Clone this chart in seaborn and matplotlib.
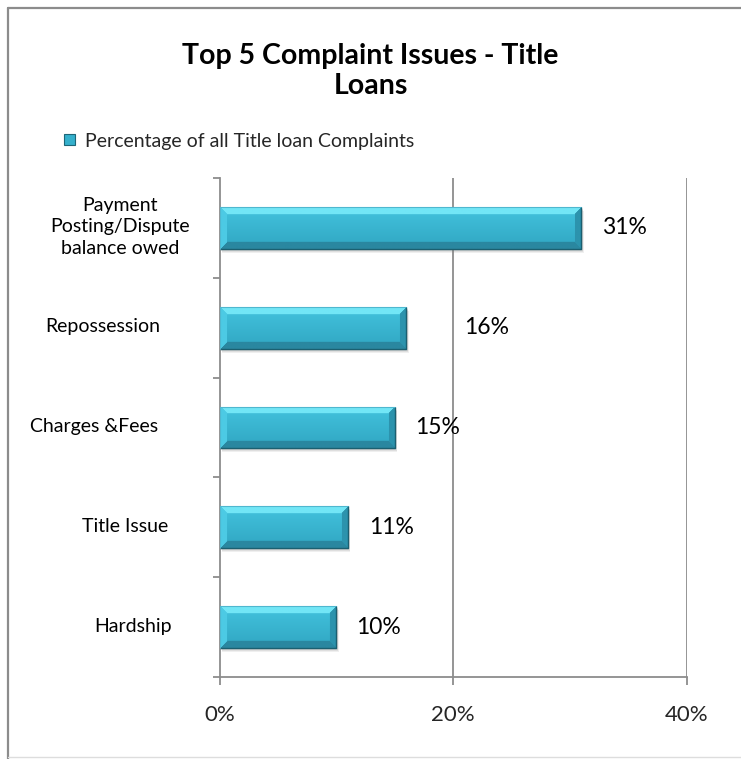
import numpy as np
import pandas as pd
import matplotlib
matplotlib.use("Agg")
import matplotlib.pyplot as plt
import seaborn as sns
from matplotlib.patches import Rectangle, Patch
from matplotlib.lines import Line2D

# ---- data ----
categories = ["Payment\nPosting/Dispute\nbalance owed", "Repossession",
              "Charges &Fees", "Title Issue", "Hardship"]
values = [31, 16, 15, 11, 10]
value_labels = ["31%", "16%", "15%", "11%", "10%"]
x_ticks = [0, 20, 40]
x_tick_labels = ["0%", "20%", "40%"]
title = "Top 5 Complaint Issues - Title\nLoans"
series_name = "Percentage of all Title loan Complaints"

# ---- style ----
sns.set_theme(style="white")
plt.rcParams['font.family'] = ['Lato', 'DejaVu Sans']

W, H = 741, 759
fig = plt.figure(figsize=(W / 100, H / 100), dpi=100)
ax_l, ax_r, ax_t, ax_b = 219.7, 686.5, 178, 677
ax = fig.add_axes([ax_l / W, 1 - ax_b / H, (ax_r - ax_l) / W, (ax_b - ax_t) / H])

df = pd.DataFrame({"category": categories, "value": values})
sns.barplot(data=df, x="value", y="category", orient="h", width=0.42,
            color="#35b0cc", edgecolor="none", linewidth=0, ax=ax, zorder=3)

ax.set_xlim(0, 40)
ax.set_ylim(4.5, -0.5)
px_per_unit_x = (ax_r - ax_l) / 40.0
px_per_unit_y = (ax_b - ax_t) / 5.0

def hex2rgb(h):
    h = h.lstrip("#")
    return np.array([int(h[i:i + 2], 16) / 255 for i in (0, 2, 4)])

top_c = hex2rgb("#72e6f6")
bot_c = hex2rgb("#2a87a0")
left_c = hex2rgb("#4ccae4")
right_c = hex2rgb("#2c93ad")
body_top = hex2rgb("#43c3de")
body_bot = hex2rgb("#30a6c2")

for p in list(ax.patches):
    x0, y0 = p.get_x(), p.get_y()
    w, h = p.get_width(), p.get_height()
    pxw = w * px_per_unit_x
    pxh = h * px_per_unit_y
    # soft shadow
    for k, a in ((4, 0.12), (3, 0.15), (2, 0.18)):
        sh = Rectangle((x0 + k * 0.6 / px_per_unit_x, y0 + k / px_per_unit_y), w, h,
                       facecolor="#808080", edgecolor="none", alpha=a, zorder=2)
        ax.add_patch(sh)
    ny, nx = int(max(pxh, 2)), int(max(pxw, 2))
    r = (np.arange(ny) + 0.5)[:, None] / ny
    c = (np.arange(nx) + 0.5)[None, :] / nx
    bv = 7.0 / pxh
    bh = 7.0 / pxw
    dt = r / bv + 0 * c
    db = (1 - r) / bv + 0 * c
    dl = c / bh + 0 * r
    dr = (1 - c) / bh + 0 * r
    m = np.minimum(np.minimum(dt, db), np.minimum(dl, dr))
    img = body_top[None, None, :] * (1 - r[..., None]) + body_bot[None, None, :] * r[..., None]
    img = np.broadcast_to(img, (ny, nx, 3)).copy()
    edge = m < 1
    for d, col in ((dt, top_c), (db, bot_c), (dl, left_c), (dr, right_c)):
        sel = edge & (d == m)
        img[sel] = col
    im = ax.imshow(img, extent=(x0, x0 + w, y0 + h, y0), aspect="auto",
                   interpolation="bilinear", zorder=3.5)
    im.set_clip_path(p)
    # darker bottom and right edges, lighter top
    ax.plot([x0, x0 + w, x0 + w], [y0 + h, y0 + h, y0], color="#1b5f70",
            linewidth=1.0, zorder=4, solid_capstyle="butt")
    ax.plot([x0, x0, x0 + w], [y0 + h, y0, y0], color="#4fb7cf",
            linewidth=0.8, zorder=4, solid_capstyle="butt")

ax.set_aspect("auto")
ax.set_xlim(0, 40)
ax.set_ylim(4.5, -0.5)

# value labels
label_offsets_px = [21, 58, 20, 21, 20]
for i, (v, lab) in enumerate(zip(values, value_labels)):
    ax.annotate(lab, (v, i), xytext=(label_offsets_px[i] * 0.72, 0),
                textcoords="offset points", va="center", ha="left",
                fontsize=16.5, color="#000000", zorder=5)

# axes styling
grid_col = "#8c8c8c"
for s in ("top", "right"):
    ax.spines[s].set_visible(False)
for s in ("left", "bottom"):
    ax.spines[s].set_color(grid_col)
    ax.spines[s].set_linewidth(1.3)
ax.set_xticks(x_ticks)
ax.set_xticklabels(x_tick_labels, fontsize=16)
ax.tick_params(axis="x", direction="out", length=6, width=1.3, color=grid_col,
               pad=14, bottom=True)
ax.set_yticks(range(len(categories)))
ax.set_yticklabels([])
ax.tick_params(axis="y", which="major", length=0)
ax.set_yticks(np.arange(-0.5, len(categories), 1.0), minor=True)
ax.tick_params(axis="y", which="minor", direction="out", length=5, width=1.3,
               color=grid_col, left=True)
for gx in x_ticks[1:]:
    ax.axvline(gx, color=grid_col, linewidth=1.3, zorder=1)
ax.set_xlabel("")
ax.set_ylabel("")

# category labels (center aligned, Excel-like placement)
label_centers_px = [120, 103, 94, 125, 133]
for i, (cat, cx) in enumerate(zip(categories, label_centers_px)):
    fig.text(cx / W, 1 - (ax_t + (i + 0.5) * px_per_unit_y - 1) / H, cat,
             ha="center", va="center", fontsize=14, linespacing=1.3,
             color="#000000")

# title
fig.text(0.5, 1 - 71 / H, title, ha="center", va="center", fontsize=20.5,
         fontweight="bold", linespacing=1.2, color="#000000")

# legend
handle = Patch(facecolor="#35b0cc", edgecolor="#1d6678", linewidth=0.8)
fig.legend(handles=[handle], labels=[series_name], loc="center left",
           bbox_to_anchor=(64 / W, 1 - 141 / H), frameon=False,
           handlelength=0.55, handleheight=0.55, handletextpad=0.55,
           borderaxespad=0, borderpad=0, fontsize=14)

# chart border
fig.add_artist(Line2D([8 / W, 1.0], [1 - 8 / H, 1 - 8 / H], transform=fig.transFigure,
                      color="#8c8c8c", linewidth=1.6))
fig.add_artist(Line2D([8 / W, 8 / W], [1 - 8 / H, 0.0], transform=fig.transFigure,
                      color="#8c8c8c", linewidth=1.6))
fig.add_artist(Line2D([8 / W, 1.0], [1 - 757 / H, 1 - 757 / H], transform=fig.transFigure,
                      color="#dddddd", linewidth=1.0))

fig.savefig("out.png", dpi=100, facecolor="white")
